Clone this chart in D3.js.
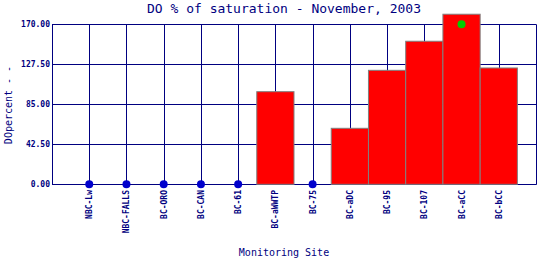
<!DOCTYPE html>
<html><head><meta charset="utf-8">
<script src="https://cdn.jsdelivr.net/npm/d3@7/dist/d3.min.js"></script>
<style>html,body{margin:0;padding:0;background:#fff;} svg{display:block;}</style>
</head><body>
<svg id="c" width="540" height="260"></svg>
<script>
const categories = ["NBC-Lw","NBC-FALLS","BC-ORO","BC-CAN","BC-61","BC-aWWTP","BC-75","BC-aDC","BC-95","BC-107","BC-aCC","BC-bCC"];
const barValues = [null,null,null,null,null,98.4,null,59.5,121.1,152,180.7,123.6];
const zeroPoints = [0,0,0,0,0,null,0,null,null,null,null,null];
const greenPoints = [null,null,null,null,null,null,null,null,null,null,170,null];
const yTicks = [0,42.5,85,127.5,170];

const navy = "#000080";
const font = "'DejaVu Sans Mono', 'Liberation Mono', monospace";
const svg = d3.select("#c");
const L = 52, R = 536, T = 24.3, B = 184.3;
const x = d3.scaleLinear().domain([0, categories.length + 1]).range([L, R]);
const y = d3.scaleLinear().domain([0, 170]).range([B, T]);
const step = x(1) - x(0);

// grid
const g = svg.append("g");
g.selectAll("line.h").data(yTicks).join("line")
  .attr("x1", L).attr("x2", R).attr("y1", d => Math.round(y(d)) + 0.5).attr("y2", d => Math.round(y(d)) + 0.5)
  .attr("stroke", navy).attr("stroke-width", 1);
g.selectAll("line.v").data(categories).join("line")
  .attr("x1", (d,i) => Math.round(x(i+1)) + 0.5).attr("x2", (d,i) => Math.round(x(i+1)) + 0.5)
  .attr("y1", T).attr("y2", B)
  .attr("stroke", navy).attr("stroke-width", 1);
// frame
g.append("line").attr("x1", L + 0.5).attr("x2", L + 0.5).attr("y1", T).attr("y2", B + 0.5).attr("stroke", navy);
g.append("line").attr("x1", R + 0.5).attr("x2", R + 0.5).attr("y1", T).attr("y2", B + 0.5).attr("stroke", navy);

// bars
svg.append("g").selectAll("rect").data(barValues.map((v,i)=>({v,i})).filter(d => d.v != null)).join("rect")
  .attr("x", d => x(d.i + 1) - step/2)
  .attr("width", step)
  .attr("y", d => y(d.v))
  .attr("height", d => y(0) - y(d.v))
  .attr("fill", "#ff0000").attr("stroke", "#808080").attr("stroke-width", 1);

// points
svg.append("g").selectAll("circle").data(zeroPoints.map((v,i)=>({v,i})).filter(d => d.v != null)).join("circle")
  .attr("cx", d => x(d.i + 1)).attr("cy", d => y(d.v)).attr("r", 4).attr("fill", "#0000cc");
svg.append("g").selectAll("circle").data(greenPoints.map((v,i)=>({v,i})).filter(d => d.v != null)).join("circle")
  .attr("cx", d => x(d.i + 1)).attr("cy", d => y(d.v)).attr("r", 4).attr("fill", "#00cc00");

// y tick labels
svg.append("g").selectAll("text").data(yTicks).join("text")
  .attr("x", 50).attr("y", d => y(d) + 3)
  .attr("text-anchor", "end").attr("font-family", font).attr("font-size", 8).attr("font-weight", "bold")
  .attr("fill", navy).text(d => d.toFixed(2));

// x tick labels
svg.append("g").selectAll("text").data(categories).join("text")
  .attr("transform", (d,i) => `translate(${x(i+1) + 3},190) rotate(-90)`)
  .attr("text-anchor", "end").attr("font-family", font).attr("font-size", 8).attr("font-weight", "bold")
  .attr("fill", navy).text(d => d);

// titles
svg.append("text").attr("x", 284).attr("y", 13).attr("text-anchor", "middle")
  .attr("font-family", font).attr("font-size", 13).attr("fill", navy).text("DO % of saturation - November, 2003");
svg.append("text").attr("x", 284).attr("y", 256).attr("text-anchor", "middle")
  .attr("font-family", font).attr("font-size", 10).attr("fill", navy).text("Monitoring Site");
svg.append("text").attr("transform", "translate(12,105) rotate(-90)").attr("text-anchor", "middle")
  .attr("font-family", font).attr("font-size", 10).attr("fill", navy).text("DOpercent - -");
</script>
</body></html>
